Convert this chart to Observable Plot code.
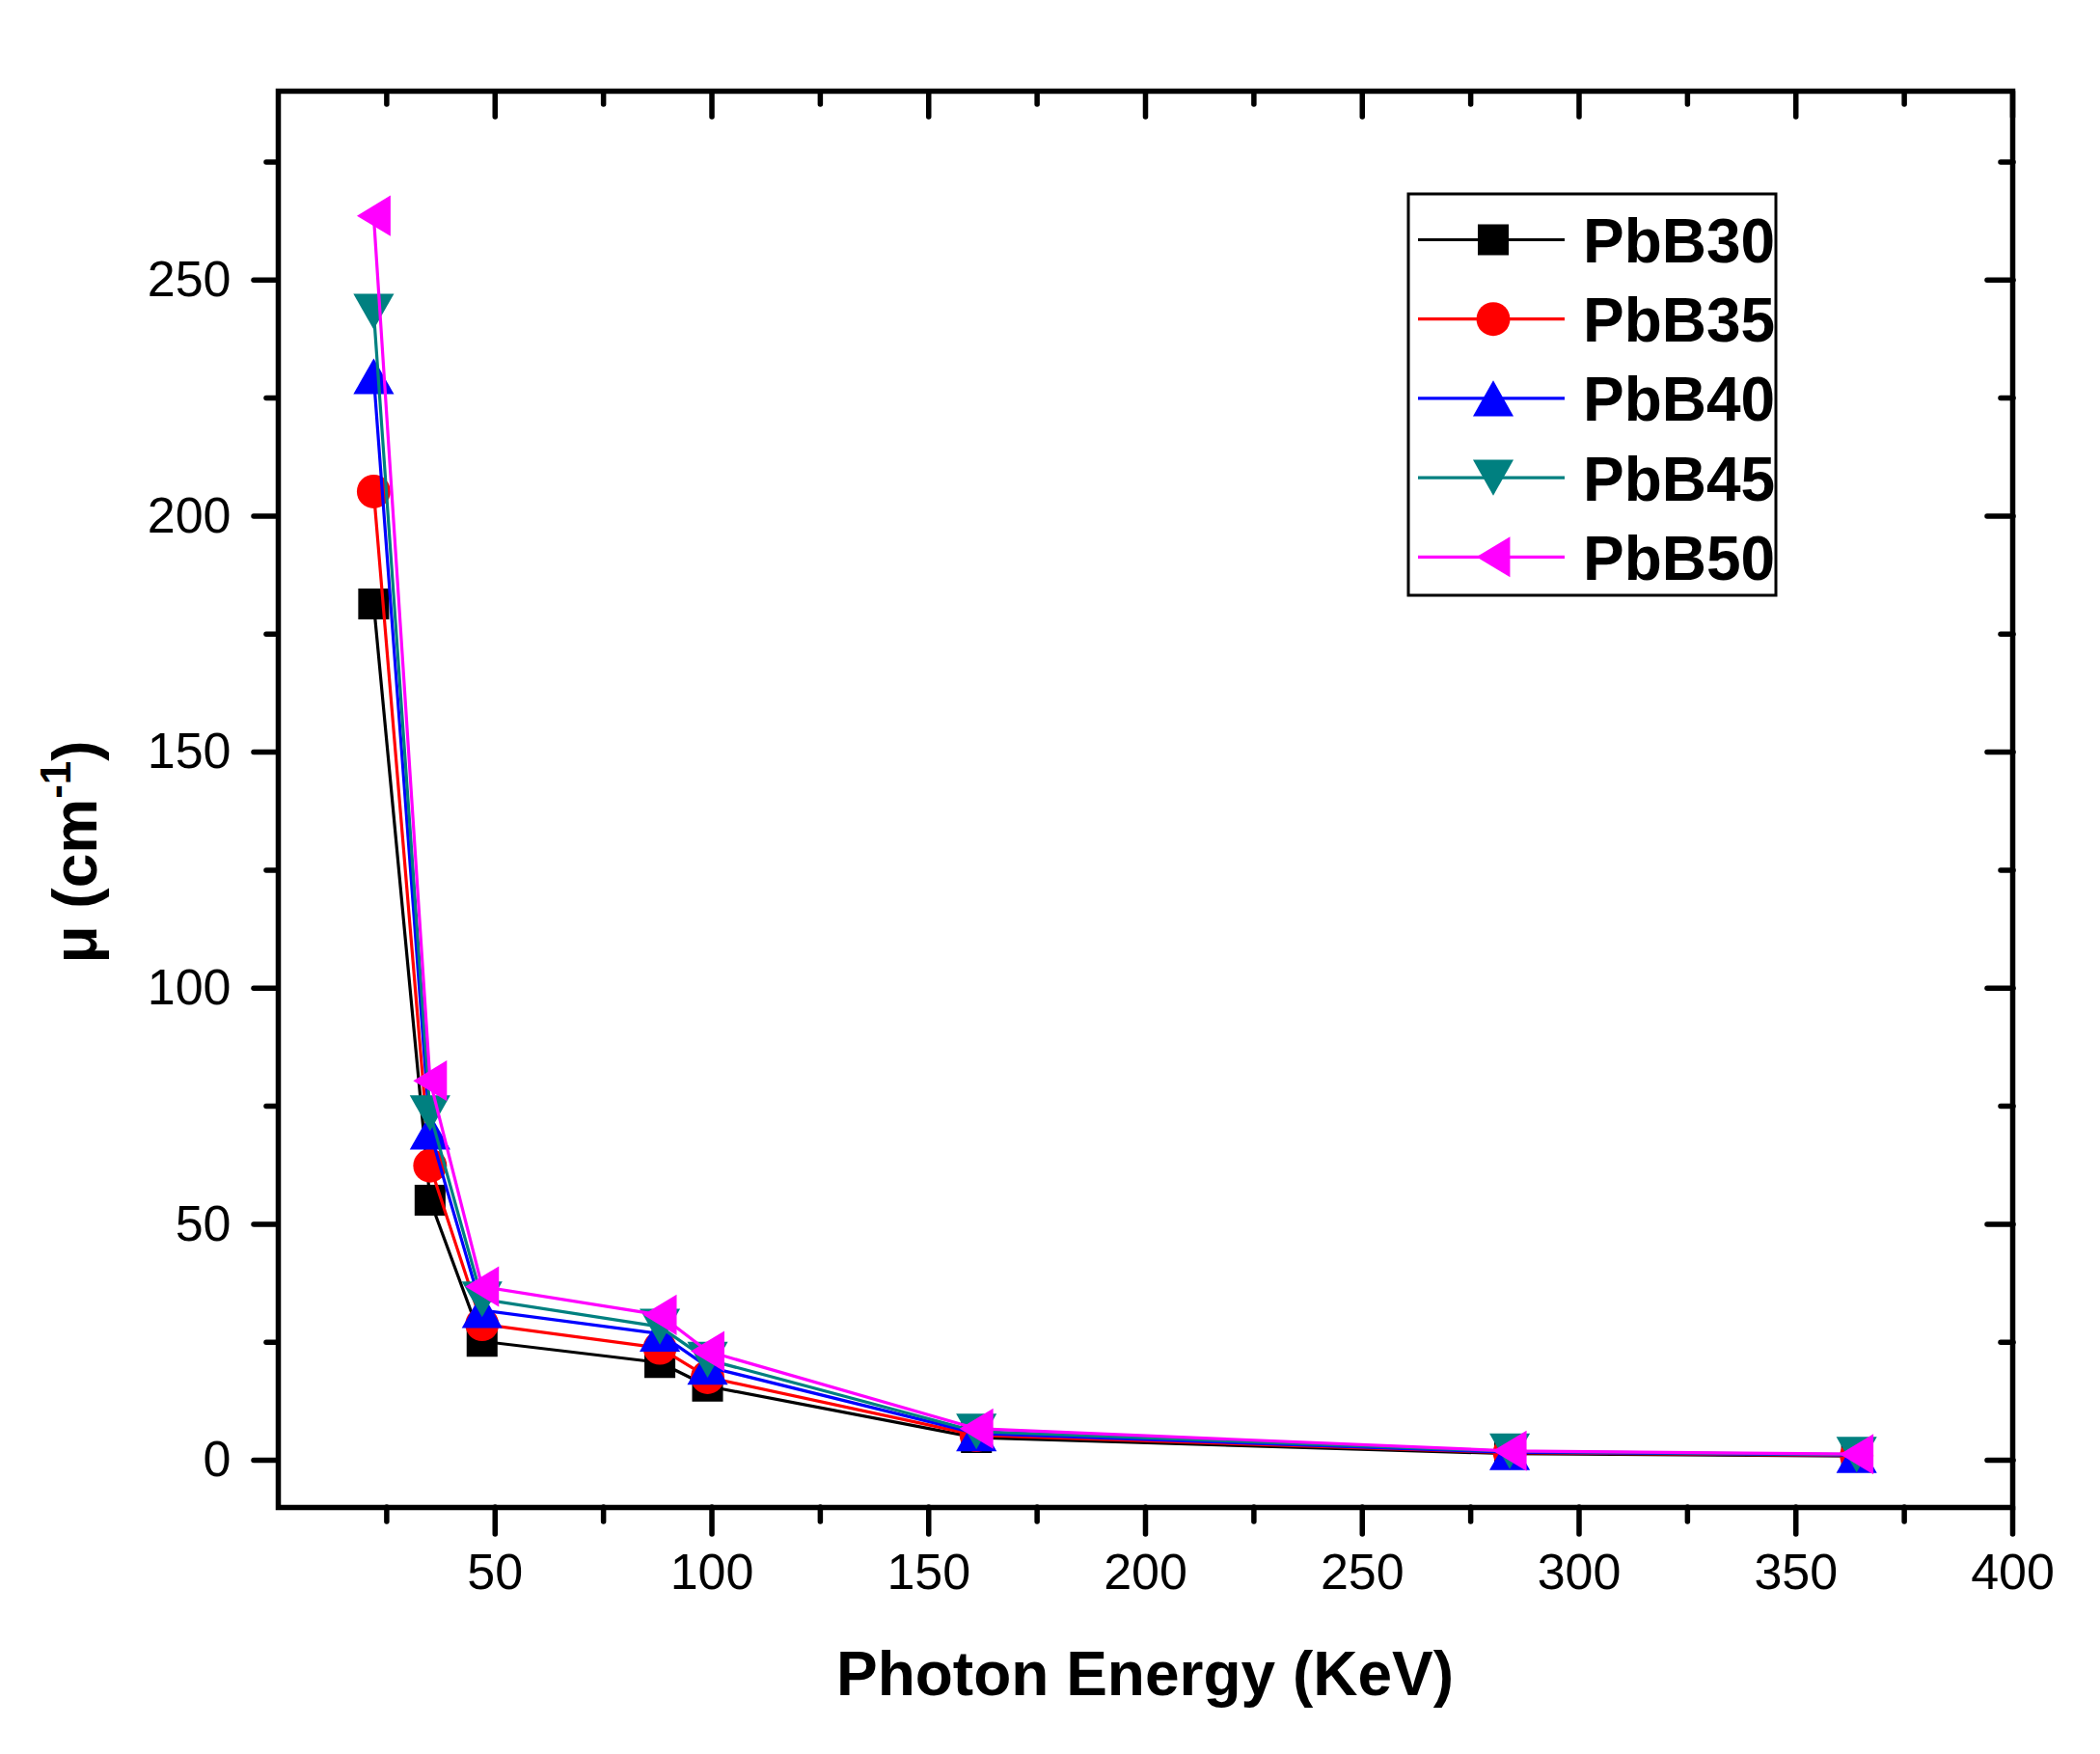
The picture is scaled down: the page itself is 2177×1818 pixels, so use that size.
<!DOCTYPE html>
<html>
<head>
<meta charset="utf-8">
<script src="https://cdn.jsdelivr.net/npm/d3@7"></script>
<script src="https://cdn.jsdelivr.net/npm/@observablehq/plot@0.6"></script>
<style>
html, body { margin: 0; padding: 0; background: #ffffff; overflow: hidden; }
#chart svg { display: block; }
</style>
</head>
<body>
<div id="chart"></div>
<script>
// ---- Data ----
const energy = [22, 35, 47, 88, 99, 161, 284, 364];          // Photon Energy (KeV)
const seriesNames = ["PbB30", "PbB35", "PbB40", "PbB45", "PbB50"];
const PbB30 = [181.4, 55.1, 25.2, 20.7, 15.7, 4.8, 1.4, 0.9];
const PbB35 = [205.2, 62.4, 28.8, 23.8, 17.6, 5.3, 1.6, 1.0];
const PbB40 = [229.6, 69.6, 31.8, 26.8, 19.8, 5.7, 1.7, 1.1];
const PbB45 = [243.3, 73.5, 34.1, 28.3, 21.3, 6.1, 1.9, 1.2];
const PbB50 = [263.6, 80.4, 36.8, 30.8, 23.1, 6.7, 2.0, 1.3];
const seriesValues = [PbB30, PbB35, PbB40, PbB45, PbB50];
const xMajorTicks = [50, 100, 150, 200, 250, 300, 350, 400];
const xMinorTicks = [25, 75, 125, 175, 225, 275, 325, 375];
const yMajorTicks = [0, 50, 100, 150, 200, 250];
const yMinorTicks = [25, 75, 125, 175, 225, 275];
const xTitle = "Photon Energy (KeV)";

// ---- Styles ----
const seriesColors = ["#000000", "#ff0000", "#0000ff", "#008080", "#ff00ff"];
const W = 2177, H = 1818;
const mL = 288, mR = 91, mT = 94, mB = 256;
const FONT = "'Liberation Sans', Arial, Helvetica, sans-serif";

// custom marker shapes (Origin style), scaled from Plot's size = r*r*PI
const rad = (size) => Math.sqrt(size / Math.PI);
const symSquare = {draw(c, s) { const h = 0.89 * rad(s); c.rect(-h, -h, 2 * h, 2 * h); }};
const symCircle = {draw(c, s) { const r = 0.97 * rad(s); c.moveTo(r, 0); c.arc(0, 0, r, 0, 2 * Math.PI); c.closePath(); }};
const symUp = {draw(c, s) { const r = rad(s), w = 1.17 * r, h = 1.03 * r; c.moveTo(0, -h); c.lineTo(w, h); c.lineTo(-w, h); c.closePath(); }};
const symDown = {draw(c, s) { const r = rad(s), w = 1.17 * r, h = 1.03 * r; c.moveTo(0, h); c.lineTo(w, -h); c.lineTo(-w, -h); c.closePath(); }};
const symLeft = {draw(c, s) { const r = rad(s), w = 0.97 * r, h = 1.17 * r; c.moveTo(-w, 0); c.lineTo(w, -h); c.lineTo(w, h); c.closePath(); }};
const symbols = [symSquare, symCircle, symUp, symDown, symLeft];
const R = 18;

const rows = seriesNames.flatMap((name, i) =>
  energy.map((e, j) => ({series: name, energy: e, mu: seriesValues[i][j]})));

const seriesMarks = seriesNames.flatMap((name, i) => {
  const data = rows.filter(d => d.series === name);
  return [
    Plot.line(data, {x: "energy", y: "mu", stroke: seriesColors[i], strokeWidth: 3.2}),
    Plot.dot(data, {x: "energy", y: "mu", fill: seriesColors[i], stroke: "none", symbol: symbols[i], r: R})
  ];
});

const tickStyle = {stroke: "#000", strokeWidth: 5.5, strokeLinecap: "round", label: null};

const plot = Plot.plot({
  width: W,
  height: H,
  marginLeft: mL, marginRight: mR, marginTop: mT, marginBottom: mB,
  style: {fontFamily: FONT, background: "#ffffff", color: "#000000"},
  x: {domain: [0, 400]},
  y: {domain: [-10, 290]},
  marks: [
    ...seriesMarks,
    // bottom axis (outward ticks with labels)
    Plot.axisX({anchor: "bottom", ticks: xMajorTicks, tickSize: 28, tickPadding: 20, fontSize: 52, tickFormat: d => String(d), ...tickStyle}),
    Plot.axisX({anchor: "bottom", ticks: xMinorTicks, tickSize: 15, tickFormat: () => "", ...tickStyle}),
    // top axis (inward ticks)
    Plot.axisX({anchor: "top", ticks: xMajorTicks, tickSize: -26, tickFormat: () => "", ...tickStyle}),
    Plot.axisX({anchor: "top", ticks: xMinorTicks, tickSize: -13, tickFormat: () => "", ...tickStyle}),
    // left axis (outward ticks with labels)
    Plot.axisY({anchor: "left", ticks: yMajorTicks, tickSize: 25, tickPadding: 24, fontSize: 52, tickFormat: d => String(d), ...tickStyle}),
    Plot.axisY({anchor: "left", ticks: yMinorTicks, tickSize: 12, tickFormat: () => "", ...tickStyle}),
    // right axis (inward ticks)
    Plot.axisY({anchor: "right", ticks: yMajorTicks, tickSize: -27, tickFormat: () => "", ...tickStyle}),
    Plot.axisY({anchor: "right", ticks: yMinorTicks, tickSize: -13, tickFormat: () => "", ...tickStyle}),
    Plot.frame({stroke: "#000", strokeWidth: 5.5})
  ]
});

document.getElementById("chart").appendChild(plot);

// ---- Axis titles and legend (real SVG text) ----
const svg = d3.select(plot);

svg.append("text")
  .attr("x", mL + (W - mL - mR) / 2)
  .attr("y", 1757)
  .attr("text-anchor", "middle")
  .attr("font-family", FONT)
  .attr("font-weight", "bold")
  .attr("font-size", 64)
  .attr("fill", "#000")
  .text(xTitle);

const yt = svg.append("text")
  .attr("transform", "translate(100,883) rotate(-90)")
  .attr("text-anchor", "middle")
  .attr("font-family", FONT)
  .attr("font-weight", "bold")
  .attr("font-size", 64)
  .attr("fill", "#000");
yt.append("tspan").text("\u03BC (cm");
yt.append("tspan").attr("font-size", 44).attr("dy", -27).text("-1");
yt.append("tspan").attr("dy", 27).text(")");

// legend
const lg = svg.append("g");
const lgX = 1460, lgY = 201, lgW = 381, lgH = 416;
lg.append("rect")
  .attr("x", lgX).attr("y", lgY).attr("width", lgW).attr("height", lgH)
  .attr("fill", "#ffffff").attr("stroke", "#000").attr("stroke-width", 3);
const rowY0 = 248.5, rowStep = 82.2;
seriesNames.forEach((name, i) => {
  const yy = rowY0 + i * rowStep;
  lg.append("line")
    .attr("x1", 1470).attr("x2", 1622).attr("y1", yy).attr("y2", yy)
    .attr("stroke", seriesColors[i]).attr("stroke-width", 3.2);
  lg.append("path")
    .attr("transform", `translate(1548,${yy})`)
    .attr("d", d3.symbol(symbols[i], R * R * Math.PI)())
    .attr("fill", seriesColors[i]);
  lg.append("text")
    .attr("x", 1641).attr("y", yy + 23.5)
    .attr("text-anchor", "start")
    .attr("font-family", FONT)
    .attr("font-weight", "bold")
    .attr("font-size", 64)
    .attr("fill", "#000")
    .text(name);
});
</script>
</body>
</html>
